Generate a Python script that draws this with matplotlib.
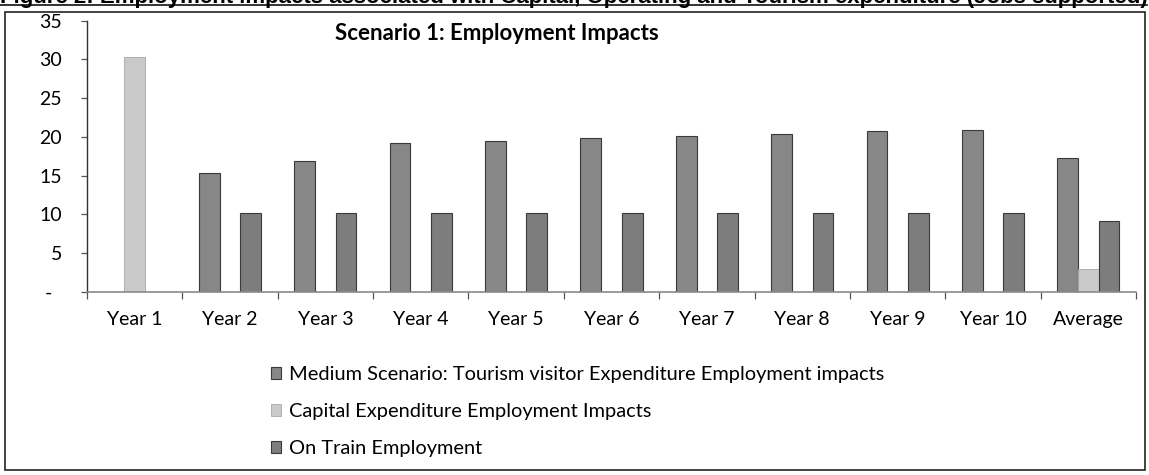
import numpy as np
import matplotlib
matplotlib.use("Agg")
import matplotlib.pyplot as plt
from matplotlib.patches import Rectangle
from matplotlib.lines import Line2D

# ===============================
# DATA (jobs supported)
# ===============================
categories = ["Year 1", "Year 2", "Year 3", "Year 4", "Year 5", "Year 6",
              "Year 7", "Year 8", "Year 9", "Year 10", "Average"]
tourism_jobs = [0, 15.4, 16.9, 19.2, 19.5, 19.8, 20.1, 20.4, 20.7, 20.9, 17.3]
capital_jobs = [30.3, 0, 0, 0, 0, 0, 0, 0, 0, 0, 3.0]
on_train_jobs = [0, 10.15, 10.15, 10.15, 10.15, 10.15, 10.15, 10.15, 10.15, 10.15, 9.15]

series_labels = ["Medium Scenario: Tourism visitor Expenditure Employment impacts",
                 "Capital Expenditure Employment Impacts",
                 "On Train Employment"]
y_ticks = [0, 5, 10, 15, 20, 25, 30, 35]
y_tick_labels = ["-  ", "5", "10", "15", "20", "25", "30", "35"]

fig_title = ("Figure 2: Employment impacts associated with Capital, Operating "
             "and Tourism expenditure (Jobs supported)")
chart_title = "Scenario 1: Employment Impacts"

# ===============================
# FIGURE
# ===============================
W, H = 1149, 475
fig = plt.figure(figsize=(W / 100, H / 100), dpi=100)
fig.patch.set_facecolor("white")

body_font = "Lato"

ax = fig.add_axes([87 / W, 183 / H, (1136 - 87) / W, (454.4 - 183) / H])

x = np.arange(len(categories))
bw = 0.217
edge = "#3a3a3a"
b1 = ax.bar(x - bw, tourism_jobs, bw, color="#878787", edgecolor=edge, linewidth=0.8,
            label=series_labels[0])
b2 = ax.bar(x, capital_jobs, bw, color="#c9c9c9", edgecolor="#a8a8a8", linewidth=0.6,
            label=series_labels[1])
b3 = ax.bar(x + bw, on_train_jobs, bw, color="#7d7d7d", edgecolor=edge, linewidth=0.8,
            label=series_labels[2])

ax.set_xlim(-0.5, len(categories) - 0.5)
ax.set_ylim(0, 35)
ax.set_yticks(y_ticks)
ax.set_yticklabels(y_tick_labels, fontfamily=body_font, fontsize=14)
ax.set_xticks(x)
ax.set_xticklabels(categories, fontfamily=body_font, fontsize=14)
ax.set_xticks(np.arange(-0.5, len(categories), 1), minor=True)
ax.tick_params(axis="x", which="major", length=0, pad=14)
ax.tick_params(axis="x", which="minor", length=5, width=0.9, color="#555555", direction="out")
ax.tick_params(axis="y", length=4, width=0.9, color="#555555", pad=14)

for s in ["top", "right"]:
    ax.spines[s].set_visible(False)
ax.spines["left"].set_color("#333333")
ax.spines["left"].set_linewidth(1.0)
ax.spines["bottom"].set_color("#8a8a8a")
ax.spines["bottom"].set_linewidth(1.2)

fig.text(497 / W, 1 - 34 / H, chart_title, ha="center", va="center",
         fontfamily=body_font, fontweight="bold", fontsize=16)

leg = fig.legend(handles=[b1, b2, b3], loc="upper left",
                 bbox_to_anchor=(271 / W, 1 - 366 / H), frameon=False,
                 prop={"family": body_font, "size": 14.4},
                 handlelength=0.52, handleheight=0.52, handletextpad=0.4,
                 labelspacing=1.0, borderpad=0, borderaxespad=0)

# outer frame
fig.patches.append(Rectangle((5 / W, 1 - 470 / H), 1140 / W, 458 / H,
                             transform=fig.transFigure, fill=False,
                             edgecolor="#222222", linewidth=1.2))

# caption above the frame, only its lower part shows
t = fig.text(0.0, 1 - 3 / H, fig_title, ha="left", va="baseline",
             fontfamily="Liberation Sans", fontweight="bold", fontsize=13.5)
fig.canvas.draw()
tw = t.get_window_extent().width
t.set_fontsize(13.5 * 1147 / tw)
fig.lines.append(Line2D([0, 1147 / W], [1 - 5 / H, 1 - 5 / H],
                        transform=fig.transFigure, color="#111111", linewidth=1.2))

fig.savefig("out.png", dpi=100, facecolor="white")
